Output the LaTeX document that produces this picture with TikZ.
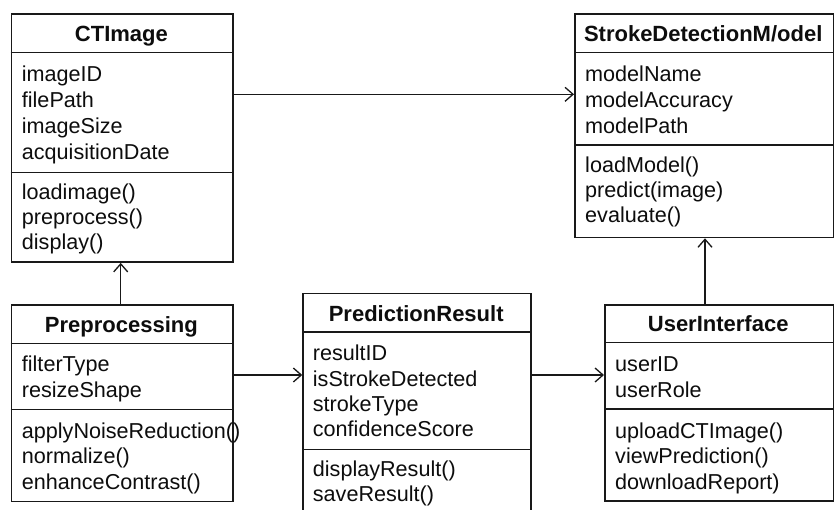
\documentclass[tikz,border=0pt]{standalone}
\usepackage{fontspec}
\setmainfont{Liberation Sans}
\usetikzlibrary{arrows.meta}
\begin{document}
\begin{tikzpicture}[x=1pt,y=-1pt,
  ink/.style={draw=black!90, line width=1.6pt},
  box/.style={ink, rectangle, inner sep=0pt, anchor=north west},
  head/.style={font=\fontsize{22}{26}\selectfont\bfseries, inner sep=0pt, anchor=base, text=black!95},
  item/.style={font=\fontsize{21.6}{25}\selectfont, inner sep=0pt, anchor=base west, text=black!95},
  conn/.style={draw=black!90, line width=1.3pt,
    -{Straight Barb[length=8pt,width=14pt,line width=1.3pt]}},
]
\useasboundingbox[fill=white] (0,0) rectangle (834,509);

% ---------- CTImage ----------
\node[box, minimum width=221.5pt, minimum height=248pt] (ct) at (10.7,13.3) {};
\draw[ink] (10.7,52.3) -- (232.2,52.3);
\draw[ink] (10.7,172.3) -- (232.2,172.3);
\node[head] (ct-h) at (121.4,41.7) {CTImage};
\foreach \t [count=\i from 0] in {imageID,filePath,imageSize,acquisitionDate}
  \node[item, name=ct-a\i] at (21.7,{81.7+25.8*\i}) {\t};
\foreach \t [count=\i from 0] in {loadimage(),preprocess(),display()}
  \node[item, name=ct-m\i] at (21.7,{199.3+25*\i}) {\t};

% ---------- StrokeDetectionM/odel ----------
\node[box, minimum width=258.5pt, minimum height=223.4pt] (sd) at (574,13.3) {};
\draw[ink] (574,52.3) -- (832.5,52.3);
\draw[ink] (574,145) -- (832.5,145);
\node[head] (sd-h) at (703.2,41.7) {StrokeDetectionM/odel};
\foreach \t [count=\i from 0] in {modelName,modelAccuracy,modelPath}
  \node[item, name=sd-a\i] at (585,{81.7+25.8*\i}) {\t};
\foreach \t [count=\i from 0] in {loadModel(),predict(image),evaluate()}
  \node[item, name=sd-m\i] at (585,{172.7+25*\i}) {\t};

% ---------- Preprocessing ----------
\node[box, minimum width=221.5pt, minimum height=196.7pt] (pp) at (10.7,304) {};
\draw[ink] (10.7,343.3) -- (232.2,343.3);
\draw[ink] (10.7,409.3) -- (232.2,409.3);
\node[head] (pp-h) at (121.4,332.7) {Preprocessing};
\foreach \t [count=\i from 0] in {filterType,resizeShape}
  \node[item, name=pp-a\i] at (21.7,{371.7+25.6*\i}) {\t};
\foreach \t [count=\i from 0] in {applyNoiseReduction(),normalize(),enhanceContrast()}
  \node[item, name=pp-m\i] at (21.7,{438.3+25.5*\i}) {\t};

% ---------- PredictionResult (runs past the lower edge) ----------
\node[box, minimum width=227.7pt, minimum height=230pt] (pr) at (302.3,292.7) {};
\draw[ink] (302.3,331.7) -- (530,331.7);
\draw[ink] (302.3,449.3) -- (530,449.3);
\node[head] (pr-h) at (416.2,321.7) {PredictionResult};
\foreach \t [count=\i from 0] in {resultID,isStrokeDetected,strokeType,confidenceScore}
  \node[item, name=pr-a\i] at (312.7,{360.7+25.4*\i}) {\t};
\foreach \t [count=\i from 0] in {displayResult(),saveResult()}
  \node[item, name=pr-m\i] at (312.7,{476.7+25*\i}) {\t};

% ---------- UserInterface ----------
\node[box, minimum width=228.5pt, minimum height=196pt] (ui) at (604,304) {};
\draw[ink] (604,342.3) -- (832.5,342.3);
\draw[ink] (604,409) -- (832.5,409);
\node[head] (ui-h) at (718.2,331.7) {UserInterface};
\foreach \t [count=\i from 0] in {userID,userRole}
  \node[item, name=ui-a\i] at (615,{371.7+25.6*\i}) {\t};
\foreach \t [count=\i from 0] in {uploadCTImage(),viewPrediction(),downloadReport)}
  \node[item, name=ui-m\i] at (615,{438.3+25.5*\i}) {\t};

% ---------- associations ----------
\coordinate (r1) at (0,94.3);
\coordinate (r2) at (0,375);
\coordinate (c1) at (120.7,0);
\coordinate (c5) at (705,0);
\draw[conn] (ct.east |- r1) -- (sd.west |- r1);
\draw[conn] (pp.north -| c1) -- (ct.south -| c1);
\draw[conn] (pp.east |- r2) -- (pr.west |- r2);
\draw[conn] (pr.east |- r2) -- (ui.west |- r2);
\draw[conn] (ui.north -| c5) -- (sd.south -| c5);
\end{tikzpicture}
\end{document}
